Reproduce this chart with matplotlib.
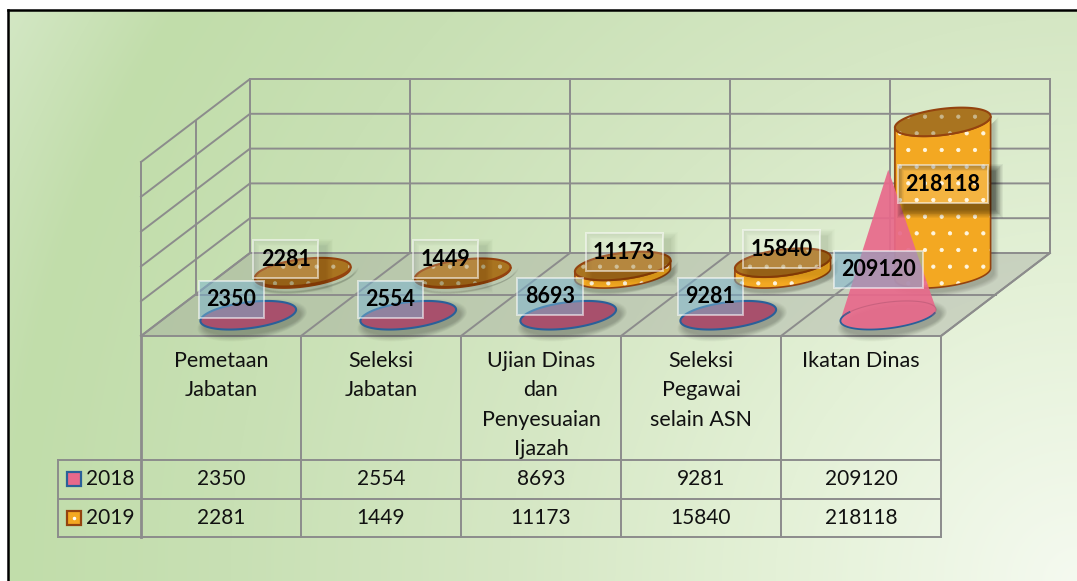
import numpy as np
import matplotlib
matplotlib.use("Agg")
import matplotlib.pyplot as plt
from matplotlib.patches import Polygon, Rectangle, PathPatch
from matplotlib.path import Path

plt.rcParams['font.family'] = ['Lato', 'DejaVu Sans']

# Data
categories = ["Pemetaan\nJabatan", "Seleksi\nJabatan", "Ujian Dinas\ndan\nPenyesuaian\nIjazah",
              "Seleksi\nPegawai\nselain ASN", "Ikatan Dinas"]
series_names = ["2018", "2019"]
values_2018 = [2350, 2554, 8693, 9281, 209120]
values_2019 = [2281, 1449, 11173, 15840, 218118]
axis_max = 250000
grid_steps = 5

# Layout of the fake 3D box, in image pixels
W, H = 1077, 581
FRONT_X, FRONT_Y = 141, 336
CAT_W = 160
DEPTH_X, DEPTH_Y = 109, 83
WALL_H = 174
ROW_TOP, ROW_1, ROW_2 = 460, 498.5, 537
TABLE_LEFT = 58

# label box offsets from the mark's base centre (dx, dy, width)
label_off_2018 = [(-17, -16, 65), (-18, -16, 65), (-18, -19, 66), (-18, -19, 65), (-10, -46, 89)]
label_off_2019 = [(-17, -15, 65), (-17, -15, 65), (1.5, -22, 77), (-1.5, -25, 77), (0, -90, 90)]

GRID = '#8c8c8c'
PINK = '#e8698b'
PINK_DARK = '#a8506c'
BLUE_EDGE = '#2a6099'
ORANGE = '#f3a822'
ORANGE_TOP = '#a97420'
BROWN_EDGE = '#94430f'


def project(cat, depth, value=0):
    """Map category position, depth (0 front, 1 back) and value onto the picture."""
    x = FRONT_X + cat * CAT_W + depth * DEPTH_X
    y = FRONT_Y - depth * DEPTH_Y - value / axis_max * WALL_H
    return x, y


A_VEC = np.array([44.0, 0.0])
B_VEC = np.array([18.8, -14.3])


def disc(center, t):
    return np.column_stack([center[0] + A_VEC[0] * np.cos(t) + B_VEC[0] * np.sin(t),
                            center[1] + A_VEC[1] * np.cos(t) + B_VEC[1] * np.sin(t)])


def soft_shadow(ax, pts, dx, dy, spread=7, strength=0.03, zorder=3):
    pts = np.asarray(pts) + [dx, dy]
    c = pts.mean(axis=0)
    for i in range(10):
        s = spread * (1 - i / 10)
        grown = c + (pts - c) * (1 + s / np.abs(pts - c).max(axis=0).clip(1))
        ax.add_patch(Polygon(grown, closed=True, fc='black', ec='none', alpha=strength, zorder=zorder))


def draw_cone(ax, cat, value):
    base = project(cat + 0.5, 0.25)
    apex = project(cat + 0.5, 0.25, value)
    t = np.linspace(0, 2 * np.pi, 120)
    ell = disc(base, t)
    soft_shadow(ax, ell, 4, 5, strength=0.022, zorder=4)
    # apex expressed in the ellipse's own axes, to find the tangent points
    m = np.column_stack([A_VEC, B_VEC])
    al, be = np.linalg.solve(m, np.array(apex) - np.array(base))
    r = np.hypot(al, be)
    if r > 1:
        phi = np.arctan2(be, al)
        d = np.arccos(1 / r)
        arc = disc(base, np.linspace(phi + d, phi + 2 * np.pi - d, 80))
        ax.add_patch(Polygon(np.vstack([[apex], arc]), closed=True, fc=PINK, ec='none', alpha=0.92, zorder=5))
        ax.plot(*disc(base, np.linspace(np.pi * 0.93, 2.05 * np.pi, 60)).T, color=BLUE_EDGE, lw=1.3, zorder=5)
        ax.plot(*disc(base, np.linspace(0, np.pi, 60)).T, color=PINK_DARK, lw=0.8, alpha=0.45, zorder=5)
    else:
        ax.add_patch(Polygon(ell, closed=True, fc=PINK_DARK, ec=BLUE_EDGE, lw=1.5, zorder=5))


def draw_cylinder(ax, cat, value):
    base = project(cat + 0.5, 0.75)
    top = project(cat + 0.5, 0.75, value)
    t0 = np.arctan2(B_VEC[0], A_VEC[0])
    # the visible front of the base runs below the centre, so walk the arc that way
    lower = disc(base, np.linspace(t0, t0 - np.pi, 80))
    upper = disc(top, np.linspace(t0 - np.pi, t0, 80))
    ell = disc(top, np.linspace(0, 2 * np.pi, 120))
    side = np.vstack([lower, upper])
    soft_shadow(ax, side, 3, 4, spread=5, strength=0.018, zorder=2)
    ax.add_patch(Polygon(side, closed=True, fc=ORANGE, ec='#fff6e0', lw=0, hatch='.', zorder=3))
    ax.add_patch(Polygon(side, closed=True, fc='none', ec=BROWN_EDGE, lw=1.2, zorder=3))
    ax.add_patch(Polygon(ell, closed=True, fc=ORANGE_TOP, ec='#c9b68a', lw=0, hatch='.', zorder=3))
    ax.add_patch(Polygon(ell, closed=True, fc='none', ec=BROWN_EDGE, lw=1.5, zorder=3))


# Figure fills the picture, axes work in image pixels
fig = plt.figure(figsize=(W / 100, H / 100), dpi=100)
ax = fig.add_axes([0, 0, 1, 1])
ax.set_xlim(0, W)
ax.set_ylim(H, 0)
ax.axis('off')
plt.rcParams['hatch.linewidth'] = 0.6

# Background: radial from the lower right corner, green towards the left
yy, xx = np.mgrid[0:H, 0:W]
g = np.hypot(W - xx, H - yy) / 1220
stops = [0.0, 0.25, 0.47, 0.7, 0.88, 1.0]
r_ = np.interp(g, stops, [245, 228, 213, 200, 193, 211])
g_ = np.interp(g, stops, [250, 241, 231, 224, 221, 231])
b_ = np.interp(g, stops, [240, 215, 196, 180, 170, 196])
ax.imshow(np.dstack([r_, g_, b_]).astype(np.uint8), extent=(8, W, H, 10), aspect='auto', zorder=0)
ax.set_xlim(0, W)
ax.set_ylim(H, 0)
ax.plot([8, 8], [H, 10], color='black', lw=1.8, zorder=1)
ax.plot([8, W], [10, 10], color='black', lw=1.8, zorder=1)

n = len(categories)

# Floor
floor = [project(0, 0), project(n, 0), project(n, 1), project(0, 1)]
ax.add_patch(Polygon(floor, closed=True, fc='#8e8e8e', ec='none', alpha=0.3, zorder=1))

# Walls and grid
for i in range(grid_steps + 1):
    v = axis_max * i / grid_steps
    ax.plot(*zip(project(0, 0, v), project(0, 1, v), project(n, 1, v)), color=GRID, lw=1.4, zorder=1)
ax.plot(*zip(project(n, 1, axis_max), project(n, 1, 0), project(n, 0, 0)), color=GRID, lw=1.4, zorder=1)
for c in range(n + 1):
    ax.plot(*zip(project(c, 1, 0), project(c, 1, axis_max)), color=GRID, lw=1.4, zorder=1)
    ax.plot(*zip(project(c, 0, 0), project(c, 1, 0)), color=GRID, lw=1.4, zorder=1)
for d in (0, 0.5):
    ax.plot(*zip(project(0, d, 0), project(0, d, axis_max)), color=GRID, lw=1.4, zorder=1)
ax.plot(*zip(project(0, 0.5, 0), project(n, 0.5, 0)), color=GRID, lw=1.4, zorder=1)
ax.plot(*zip(project(0, 0, 0), project(n, 0, 0)), color=GRID, lw=1.4, zorder=1)

# Marks
for c, v in enumerate(values_2019):
    draw_cylinder(ax, c, v)
for c, v in enumerate(values_2018):
    draw_cone(ax, c, v)


# Data labels
def box_ring(x0, y0, w, h, grow):
    """Rectangle grown by `grow`, with the box (x0, y0, w, h) cut out of it."""
    outer = [(x0 + 7 - grow, y0 + 7 - grow), (x0 + w + 7 + grow, y0 + 7 - grow),
             (x0 + w + 7 + grow, y0 + h + 7 + grow), (x0 + 7 - grow, y0 + h + 7 + grow), (0, 0)]
    inner = [(x0, y0), (x0, y0 + h), (x0 + w, y0 + h), (x0 + w, y0), (0, 0)]
    codes = [Path.MOVETO, Path.LINETO, Path.LINETO, Path.LINETO, Path.CLOSEPOLY]
    return Path(outer + inner, codes + codes)


def data_label(base, value, off, fc, fa, shadow=0.0):
    dx, dy, w = off
    cx, cy = base[0] + dx, base[1] + dy
    h = 37.5
    x0, y0 = cx - w / 2, cy - h / 2
    if shadow:
        for i in range(10):
            ax.add_patch(PathPatch(box_ring(x0, y0, w, h, 8 * (1 - i / 10)), fc='black', ec='none',
                                   alpha=shadow, zorder=6))
    ax.add_patch(Rectangle((x0, y0), w, h, fc=fc, ec='none', alpha=fa, zorder=7))
    ax.add_patch(Rectangle((x0, y0), w, h, fc='none', ec=(1, 1, 1, 0.55), lw=1.4, zorder=7))
    ax.text(cx, cy + 0.5, str(value), ha='center', va='center', fontsize=15.5, fontweight='bold',
            color='black', zorder=8)


for c, v in enumerate(values_2019):
    data_label(project(c + 0.5, 0.75), v, label_off_2019[c], '#ffffff', 0.14,
               shadow=0.05 if c == 4 else 0.012)
for c, v in enumerate(values_2018):
    data_label(project(c + 0.5, 0.25), v, label_off_2018[c], '#79b4d2', 0.5)

# Data table below the chart
for y in (ROW_TOP, ROW_1, ROW_2):
    ax.plot([TABLE_LEFT, project(n, 0)[0]], [y, y], color=GRID, lw=1.4, zorder=1)
ax.plot([TABLE_LEFT, TABLE_LEFT], [ROW_TOP, ROW_2], color=GRID, lw=1.4, zorder=1)
for c in range(n + 1):
    x = project(c, 0)[0]
    ax.plot([x, x], [FRONT_Y, ROW_2], color=GRID, lw=2.0 if c == 0 else 1.4, zorder=1)

for c, name in enumerate(categories):
    ax.text(project(c + 0.5, 0)[0], FRONT_Y + 15, name, ha='center', va='top', fontsize=15.5,
            color='#111111', linespacing=1.58, zorder=2)

rows = [(ROW_TOP, ROW_1, series_names[0], values_2018, PINK, BLUE_EDGE),
        (ROW_1, ROW_2, series_names[1], values_2019, ORANGE, BROWN_EDGE)]
for y0, y1, name, vals, fc, ec in rows:
    ym = (y0 + y1) / 2
    ax.add_patch(Rectangle((66.5, ym - 7), 14, 14, fc=fc, ec=ec, lw=1.6, zorder=2))
    ax.text(86, ym, name, ha='left', va='center', fontsize=15, color='#111111', zorder=2)
    for c, v in enumerate(vals):
        ax.text(project(c + 0.5, 0)[0], ym, str(v), ha='center', va='center', fontsize=15,
                color='#111111', zorder=2)

ax.plot([73.5], [ROW_1 + 19.3], marker='o', ms=1.5, color='white', zorder=3)

fig.savefig("out.png", dpi=100)
